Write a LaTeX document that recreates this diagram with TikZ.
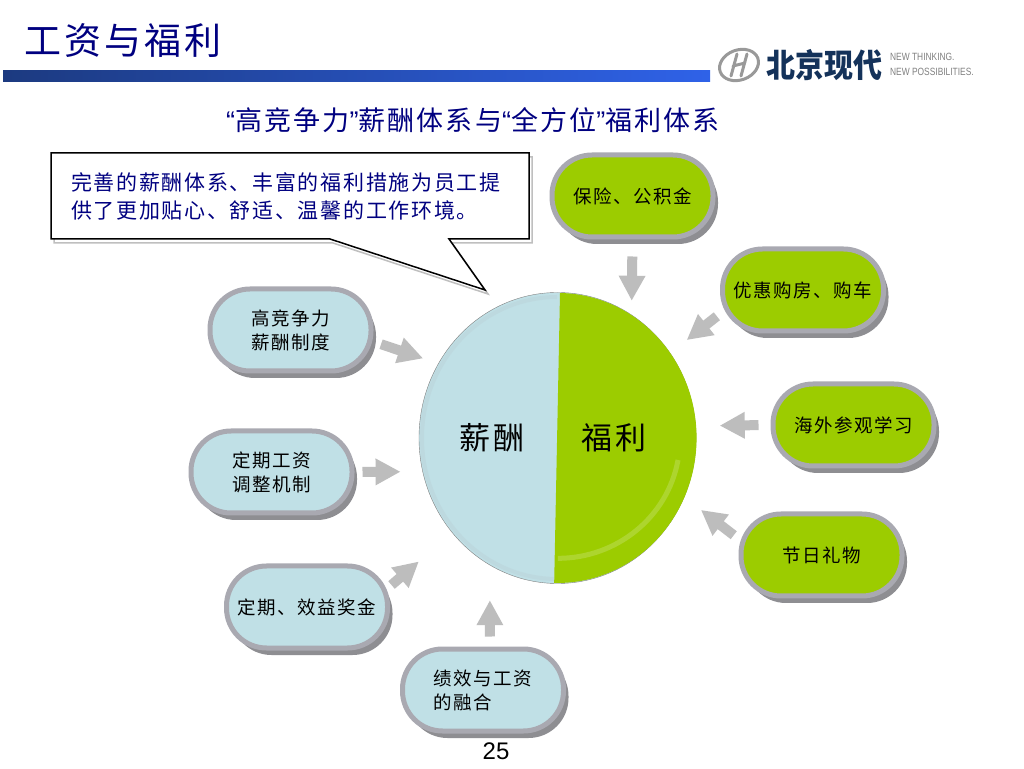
\documentclass[tikz,border=0pt]{standalone}
\usepackage{fontspec}
\setmainfont{Liberation Sans}
\newfontfamily\cjk[LetterSpace=8]{Noto Sans CJK SC}
\newfontfamily\cjkplain{Noto Sans CJK SC}
\usetikzlibrary{arrows.meta,shadows,shapes.geometric}
\definecolor{navy}{HTML}{000080}
\definecolor{leaf}{HTML}{9CCC00}
\definecolor{ice}{HTML}{C0E0E6}
\definecolor{rim}{HTML}{A9A9B1}
\definecolor{rimdark}{HTML}{8E8E92}
\definecolor{flowgray}{HTML}{BDBDBD}
\definecolor{bardark}{HTML}{1C3A80}
\definecolor{barlight}{HTML}{2F62E8}
\definecolor{logoblue}{HTML}{14325A}

\begin{document}
\begin{tikzpicture}[x=1pt,y=1pt]
				\tikzstyle{pill}=[draw=rim,line width=5pt,rounded corners=40pt,
				minimum width=161pt,minimum height=82pt,inner sep=0pt,align=center,
				font=\cjk\fontsize{18.5}{24}\selectfont,
				general shadow={fill=rimdark,draw=none,shadow xshift=5pt,shadow yshift=-7pt}]
				\tikzstyle{greenpill}=[pill,fill=leaf]
				\tikzstyle{bluepill}=[pill,fill=ice]
				\tikzstyle{flow}=[draw=flowgray,line width=10pt,-{Triangle[length=25pt,width=25pt]}]
				\useasboundingbox (0,0) rectangle (1024,768);
				\fill[white] (0,0) rectangle (1024,768);
				\node (title) [anchor=west,text=navy,inner sep=0pt,font=\cjk\fontsize{37}{42}\selectfont] at (24,727) {工资与福利};
				\shade[left color=bardark,right color=barlight] (3,697) rectangle (710,686);
				\draw[gray!80,line width=3pt,rotate around={20:(739,703)}] (739,703) ellipse [x radius=20,y radius=15];
				\draw[gray!80,line width=3pt,line cap=round] (731,692) -- (737,714) (741,692) -- (747,714) (733,702) -- (745,705);
				\node (logotext) [anchor=west,text=logoblue,inner sep=0pt,font=\cjkplain\bfseries\fontsize{29}{32}\selectfont,yscale=1.12] at (766,703) {北京现代};
				\node (logoa) [anchor=west,text=gray,inner sep=0pt,xscale=.8,transform shape,font=\fontsize{10.5}{12}\selectfont] at (890,711) {NEW THINKING.};
				\node (logob) [anchor=west,text=gray,inner sep=0pt,xscale=.8,transform shape,font=\fontsize{10.5}{12}\selectfont] at (890,696) {NEW POSSIBILITIES.};
				\node (subtitle) [text=navy,inner sep=0pt,font=\cjk\fontsize{27}{30}\selectfont] at (473,648) {{\normalfont “}高竞争力{\normalfont ”}薪酬体系与{\normalfont “}全方位{\normalfont ”}福利体系};
				\draw[black,line width=1.5pt,fill=white,general shadow={draw=gray!50,line width=1.5pt,fill=white,shadow xshift=3pt,shadow yshift=-4pt}] (51,615) -- (529,615) -- (529,529) -- (449,529) -- (485,478) -- (330,529) -- (51,529) -- cycle;
				\node (note) [anchor=west,text=navy,inner sep=0pt,align=left,font=\cjk\fontsize{21}{28}\selectfont] at (71,572) {完善的薪酬体系、丰富的福利措施为员工提\\供了更加贴心、舒适、温馨的工作环境。};
				\node (wheel) [ellipse,draw=gray,fill=ice,inner sep=0pt,minimum width=277pt,minimum height=291pt] at (557.5,330) {};
				\draw[rim!40!ice,line width=4pt,opacity=.3] (557,471) arc[start angle=90,end angle=270,x radius=135,y radius=141];
				\fill[leaf] (560,475) arc[start angle=89,end angle=-91.4,x radius=139,y radius=145] -- cycle;
				\draw[white,line width=5pt,opacity=.18] (678,308) arc[start angle=-10,end angle=-90,x radius=122,y radius=119];
				\node (pay) [inner sep=0pt,font=\cjk\fontsize{31}{34}\selectfont] at (492,330) {薪酬};
				\node (benefit) [inner sep=0pt,font=\cjk\fontsize{31}{34}\selectfont] at (614,330) {福利};
				\node (insure) [greenpill] at (632.5,572) {保险、公积金};
				\node (house) [greenpill] at (803,478) {优惠购房、购车};
				\node (abroad) [greenpill] at (853.5,343) {海外参观学习};
				\node (holiday) [greenpill] at (821.5,213) {节日礼物};
				\node (merge) [bluepill,align=left] at (483,78) {绩效与工资\\的融合};
				\node (bonus) [bluepill] at (307,161) {定期、效益奖金};
				\node (adjust) [bluepill] at (271.5,296) {定期工资\\调整机制};
				\node (system) [bluepill] at (290.5,438) {高竞争力\\薪酬制度};
				\draw[flow,shorten <=17pt,shorten >=14pt] (insure.south) -- (wheel.59);
				\draw[flow,shorten <=4pt,shorten >=21pt] (house.196) -- (wheel.37);
				\draw[flow,shorten <=12pt,shorten >=24pt] (abroad.west) -- (wheel.5.4);
				\draw[flow,shorten <=6pt,shorten >=21pt] (holiday.169) -- (wheel.-25);
				\draw[flow,shorten <=10pt,shorten >=35pt] (merge.81) -- (wheel.242);
				\draw[flow,shorten <=2pt,shorten >=44pt] (bonus.14) -- (wheel.222);
				\draw[flow,shorten <=8pt,shorten >=22pt] (adjust.east) -- (wheel.194);
				\draw[flow,shorten <=8pt,shorten >=16pt] (system.-8.5) -- (wheel.148);
				\node (page) [inner sep=0pt,font=\fontsize{24}{28}\selectfont] at (496,17) {25};
\end{tikzpicture}
\end{document}
